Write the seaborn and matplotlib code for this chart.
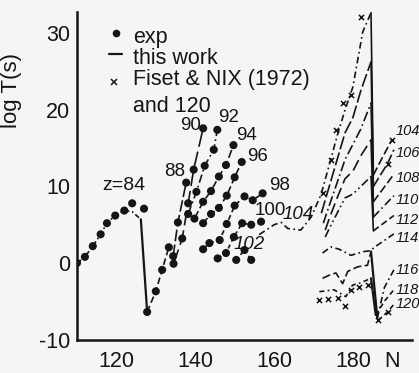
import numpy as np
import pandas as pd
import matplotlib
matplotlib.use("Agg")
import matplotlib.pyplot as plt
import seaborn as sns
from matplotlib import font_manager as fm

sns.set_theme(style="white")
plt.rcParams["font.family"] = ["DejaVu Sans"]
plt.rcParams["axes.unicode_minus"] = False

_names = {f.name for f in fm.fontManager.ttflist}
FONT = "Liberation Sans" if "Liberation Sans" in _names else "DejaVu Sans"

# ---------------- data: neutron number N, log10 of alpha half-life (s) ----------------
# measured values (dots) and calculated curves for Z = 84 ... 102
z84_N = [110, 112, 114, 116, 117.6, 119.7, 122, 124, 127, 127.8, 130, 131.6, 133.3]
z84_T = [0.0, 0.8, 2.2, 3.75, 5.2, 6.2, 6.85, 7.8, 7.1, -6.4, -3.7, -0.9, 2.05]
z84_calc_N = [110, 112, 114, 116, 117.6, 119.7, 122, 124, 126.2, 127.8, 130, 131.6, 133.3]
z84_calc_T = [0.0, 0.8, 2.2, 3.75, 5.2, 6.2, 6.85, 6.7, 5.7, -6.4, -3.7, -0.9, 2.05]
z88_N = [134.4, 135.6, 137.7]
z88_T = [0.9, 5.3, 10.5]
z90_N = [134.5, 136.7, 138.2, 139.6, 142.0]
z90_T = [-0.1, 3.2, 7.8, 12.2, 17.6]
z92_N = [138.2, 140.3, 142.4, 144.7, 145.6]
z92_T = [6.4, 9.3, 12.7, 14.8, 17.4]
z94_N = [139.8, 142.0, 144.0, 146.0, 147.8, 149.7]
z94_T = [5.8, 8.0, 9.4, 11.3, 12.8, 15.4]
z96_N = [142.0, 144.0, 146.0, 148.0, 150.0, 151.8]
z96_T = [5.2, 6.4, 7.2, 8.8, 11.2, 13.2]
z98_N = [142.0, 143.6, 146.2, 148.0, 150.0, 152.5, 154.6, 157.1]
z98_T = [1.8, 2.6, 3.0, 5.1, 7.5, 8.7, 8.2, 9.1]
z100_N = [145.7, 147.8, 149.8, 151.9, 154.2, 156.7]
z100_T = [0.6, 1.3, 3.4, 5.2, 5.0, 5.4]
z102_N = [150.4, 152.5, 154.2]
z102_T = [0.4, 1.7, 0.4]

# calculated curves for superheavy elements Z = 104 ... 120
z104_N = [156.2, 158, 160, 161.8, 163.5, 166.8, 169.4, 171.9, 174, 176, 178, 180, 182.5, 184.6, 185.2, 187.5, 190.0]
z104_T = [3.7, 4.3, 5.0, 5.3, 4.5, 4.3, 6.0, 8.9, 12.8, 16.6, 20.0, 23.0, 30.2, 32.7, 11.5, 13.8, 16.2]
z106_N = [172, 174, 176, 178, 180, 182, 184.6, 185.2, 188.8, 190.4]
z106_T = [6.5, 10.0, 13.5, 17.0, 19.0, 22.5, 26.3, 10.0, 13.0, 14.8]
z108_N = [172.5, 174, 176, 178, 180, 182, 184.6, 185.2, 190.4]
z108_T = [5.2, 7.5, 10.5, 13.5, 15.5, 17.5, 20.9, 8.0, 11.6]
z110_N = [173, 174, 176, 178, 180, 182, 184.6, 185.2, 190.4]
z110_T = [4.3, 5.8, 8.5, 11.0, 12.0, 14.0, 16.1, 6.0, 8.8]
z112_N = [173, 174, 176, 178, 180, 182, 184.6, 185.2, 190.4]
z112_T = [3.4, 4.5, 6.5, 8.5, 9.0, 10.0, 11.3, 4.2, 6.2]
z114_N = [172.3, 174.4, 176.5, 179.5, 182.8, 184.6, 185.3, 190.4]
z114_T = [1.3, 2.1, 1.8, 1.0, 1.5, 1.6, 2.0, 3.8]
z116_N = [172.3, 174, 175.7, 177.4, 178.7, 181.2, 183.7, 184.6, 186.2, 188, 190.4]
z116_T = [-2.0, -1.6, -1.3, -2.7, -1.1, -0.5, -0.3, 1.5, -7.2, -3.2, -0.9]
z118_N = [171.5, 175.2, 178.2, 179.9, 182, 184.6, 185.8, 188, 190.4]
z118_T = [-3.75, -3.5, -4.4, -2.9, -2.6, -2.0, -6.8, -5.0, -3.5]
z120_N = [186.4, 188.8, 190.4]
z120_T = [-7.5, -6.4, -5.4]

# Fiset & Nix (1972) values
fn_N = [172.3, 174.4, 175.7, 177.5, 179.5, 182.0, 188.8, 190.0,
        171.5, 173.7, 176.1, 178.0, 179.5, 181.6, 183.8, 186.4, 188.8]
fn_T = [9.2, 13.5, 17.4, 20.9, 22.0, 32.2, 12.9, 16.1,
        -4.8, -4.7, -4.6, -5.6, -3.5, -3.1, -2.9, -7.5, -6.4]

# curve labels
left_labels = ["z=84", "88", "90", "92", "94", "96", "98", "100", "102", "104"]
left_label_N = [121.8, 134.7, 138.7, 148.4, 152.9, 155.7, 161.5, 159.0, 153.7, 166.0]
left_label_T = [10.1, 11.9, 18.0, 19.0, 16.6, 13.9, 10.1, 6.8, 2.4, 6.3]
right_labels = ["104", "106", "108", "110", "112", "114", "116", "118", "120"]
right_label_T = [17.2, 14.4, 11.1, 8.2, 5.6, 3.3, -0.9, -3.5, -5.4]
RIGHT_LABEL_N = 190.9

# ---------------- figure ----------------
BG = "#f5f5f3"
INK = "#151515"
W, H = 419, 373
fig = plt.figure(figsize=(W / 100, H / 100), dpi=100)
fig.patch.set_facecolor(BG)
x0, x1, ytop, ybot = 77, 412, 12, 339.5
ax = fig.add_axes([x0 / W, (H - ybot) / H, (x1 - x0) / W, (ybot - ytop) / H])
ax.set_facecolor(BG)
ax.set_xlim(110, 195)
ax.set_ylim(-10, 32.8)

exp_sets = [(z84_N, z84_T), (z88_N, z88_T), (z90_N, z90_T), (z92_N, z92_T),
            (z94_N, z94_T), (z96_N, z96_T), (z98_N, z98_T), (z100_N, z100_T),
            (z102_N, z102_T)]

curves = [
    (z84_calc_N, z84_calc_T, (0, (3, 1.6, 1, 1.6)), (0, (4, 2))),
    (z88_N, z88_T, (0, (7, 2)), None),
    (z90_N, z90_T, (0, (9, 3)), None),
    (z92_N, z92_T, (0, (5, 2, 1, 2)), None),
    (z94_N, z94_T, (0, (5, 2)), None),
    (z96_N, z96_T, (0, (4, 2)), None),
    (z98_N, z98_T, (0, (3, 2)), None),
    (z100_N, z100_T, (0, (2.5, 2)), None),
    (z102_N, z102_T, (0, (2, 2)), None),
    (z104_N, z104_T, (0, (4, 2, 1, 2)), (0, (5, 2))),
    (z106_N, z106_T, (0, (8, 2)), (0, (6, 2))),
    (z108_N, z108_T, (0, (6, 2, 1, 2)), (0, (5, 2))),
    (z110_N, z110_T, (0, (7, 3)), (0, (5, 2, 1, 2))),
    (z112_N, z112_T, (0, (5, 2, 1, 2, 1, 2)), (0, (4, 2))),
    (z114_N, z114_T, (0, (4, 2, 1, 2)), None),
    (z116_N, z116_T, (0, (5, 2)), (0, (4, 2, 1, 2))),
    (z118_N, z118_T, (0, (3, 2, 1, 2)), (0, (3, 2))),
    (z120_N, z120_T, (0, (3, 2)), None),
]


def draw(n, t, ls, lw=1.2):
    sns.lineplot(x=n, y=t, ax=ax, color=INK, lw=lw, linestyle=ls,
                 sort=False, estimator=None, legend=False)


for n, t, ls_left, ls_right in curves:
    n = np.asarray(n, float)
    t = np.asarray(t, float)
    slope = np.diff(t) / np.diff(n)
    k = int(np.argmin(slope))
    if slope[k] < -3:
        # split at the steep fall after the shell closure; the fall itself is solid
        draw(n[:k + 1], t[:k + 1], ls_left)
        draw(n[k:k + 2], t[k:k + 2], "-", lw=1.6 if t[k + 1] < -3 else 1.2)
        draw(n[k + 1:], t[k + 1:], ls_right or ls_left)
    else:
        draw(n, t, ls_left)

exp_df = pd.concat([pd.DataFrame({"N": n, "logT": t}) for n, t in exp_sets], ignore_index=True)
sns.scatterplot(data=exp_df, x="N", y="logT", ax=ax, color=INK, s=34,
                edgecolor="none", legend=False, zorder=3)

fn_df = pd.DataFrame({"N": fn_N, "logT": fn_T})
sns.scatterplot(data=fn_df, x="N", y="logT", ax=ax, color=INK, marker="x",
                s=14, linewidth=1.1, legend=False, zorder=3)

# curve labels
for txt, n, t in zip(left_labels, left_label_N, left_label_T):
    ax.text(n, t, txt, ha="center", va="center", color=INK, family=FONT,
            fontsize=14 if txt.startswith("z") else 13.5,
            style="italic" if txt in ("102", "104") else "normal")
for txt, t in zip(right_labels, right_label_T):
    ax.text(RIGHT_LABEL_N, t, txt, ha="left", va="center", color=INK,
            family=FONT, fontsize=10.5, style="italic")

# key
ax.plot([119.9], [30.05], "o", ms=4.5, color=INK, clip_on=False)
ax.plot([118.2, 121.3], [27.3, 27.3], "-", lw=1.6, color=INK, clip_on=False)
ax.plot([119.4], [23.7], "x", ms=4, mew=1.1, color=INK, clip_on=False)
key_rows = ["exp", "this work", "Fiset & NIX (1972)", "and 120"]
key_T = [28.75, 26.0, 23.2, 19.7]
for txt, t in zip(key_rows, key_T):
    ax.text(124.2, t, txt, ha="left", va="baseline", color=INK, family=FONT, fontsize=15.5)

# axes styling
for s in ("top", "right"):
    ax.spines[s].set_visible(False)
for s in ("left", "bottom"):
    ax.spines[s].set_color(INK)
    ax.spines[s].set_linewidth(1.8)

ax.set_xticks([120, 140, 160, 180], labels=["120", "140", "160", "180"])
ax.set_xticks([130, 150, 170, 190], minor=True, labels=["", "", "", "N"])
ax.set_yticks([-10, 0, 10, 20, 30], labels=["-10", "0", "10", "20", "30"])
ax.set_yticks(np.arange(-9, 33, 1), minor=True)
ax.tick_params(axis="x", which="major", direction="in", length=12, width=1.3, pad=8,
               colors=INK, labelsize=15.5)
ax.tick_params(axis="x", which="minor", direction="in", length=7, width=1.3, pad=8,
               colors=INK, labelsize=15.5)
ax.tick_params(axis="y", which="major", direction="in", length=14, width=1.3, pad=5,
               colors=INK, labelsize=15.5)
ax.tick_params(axis="y", which="minor", direction="in", length=5, width=1.0, colors=INK)
for lab in ax.get_xticklabels(which="both") + ax.get_yticklabels():
    lab.set_family(FONT)

ax.set_xlabel("")
ax.set_ylabel("log T(s)", family=FONT, fontsize=16, color=INK)
ax.yaxis.set_label_coords((22 - x0) / (x1 - x0), (ybot - 90) / (ybot - ytop))

fig.savefig("out.png", dpi=100, facecolor=BG)
